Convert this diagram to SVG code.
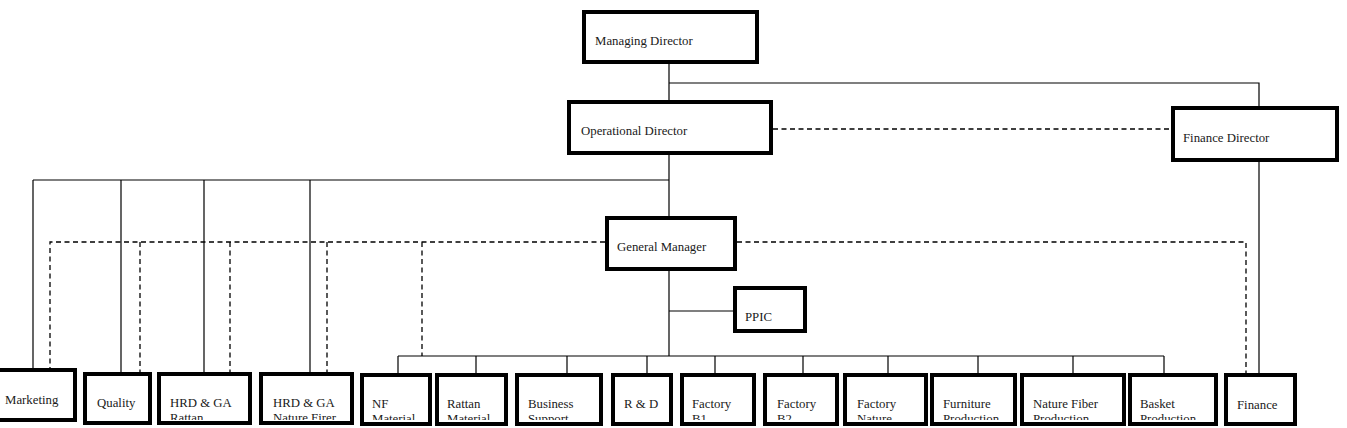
<svg xmlns="http://www.w3.org/2000/svg" width="1347" height="428" viewBox="0 0 1347 428">
<style>
.box{fill:none;stroke:#000;stroke-width:4}
.t{font-family:"Liberation Serif","Times New Roman",serif;font-size:12.8px;fill:#1a1a1a}
.ln{fill:none;stroke:#000;stroke-width:1.2}
.ds{fill:none;stroke:#000;stroke-width:1.3;stroke-dasharray:5 3.5}
</style>
<defs>
<clipPath id="cb"><rect x="-10" y="0" width="1360" height="420"/></clipPath>
</defs>
<rect x="0" y="0" width="1347" height="428" fill="#fff"/>
<g id="connectors">
<path class="ln" d="M669,64V100M669,83H1259V106M669,155V216M33,180H669M33,180V368M121,180V372M204,180V372M310,180V372M669,271V356M669,311H733M398,356H1164M1259,162V373"/>
<path class="ln" d="M398,356V373M476,356V373M567,356V373M647,356V373M715,356V373M803,356V373M888,356V373M978,356V373M1073,356V373M1164,356V373"/>
<path class="ds" d="M773,129H1171M605,242H50V368M140,242V372M230,242V372M327,242V372M422,242V356M737,242H1246V373"/>
</g>
<g id="md"><rect class="box" x="584" y="12" width="173" height="50"/><text class="t" x="595" y="45">Managing Director</text></g>
<g id="od"><rect class="box" x="569" y="102" width="202" height="51"/><text class="t" x="581" y="135">Operational Director</text></g>
<g id="fd"><rect class="box" x="1173" y="108" width="164" height="52"/><text class="t" x="1183" y="142">Finance Director</text></g>
<g id="gm"><rect class="box" x="607" y="218" width="128" height="51"/><text class="t" x="617" y="251">General Manager</text></g>
<g id="ppic"><rect class="box" x="735" y="288" width="70" height="43"/><text class="t" x="745" y="321">PPIC</text></g>
<g clip-path="url(#cb)">
<g id="marketing"><text class="t" x="5" y="404">Marketing</text></g>
<g id="quality"><text class="t" x="97" y="407">Quality</text></g>
<g id="hrd-rattan"><text class="t" x="170" y="407">HRD &amp; GA</text><text class="t" x="170" y="422">Rattan</text></g>
<g id="hrd-nature"><text class="t" x="273" y="407">HRD &amp; GA</text><text class="t" x="273" y="422">Nature Firer</text></g>
<g id="nf-material"><text class="t" x="372" y="408">NF</text><text class="t" x="372" y="423">Material</text></g>
<g id="rattan-material"><text class="t" x="447" y="408">Rattan</text><text class="t" x="447" y="423">Material</text></g>
<g id="business-support"><text class="t" x="528" y="408">Business</text><text class="t" x="528" y="423">Support</text></g>
<g id="rnd"><text class="t" x="624" y="408">R &amp; D</text></g>
<g id="factory-b1"><text class="t" x="692" y="408">Factory</text><text class="t" x="692" y="423">B1</text></g>
<g id="factory-b2"><text class="t" x="777" y="408">Factory</text><text class="t" x="777" y="423">B2</text></g>
<g id="factory-nature"><text class="t" x="857" y="408">Factory</text><text class="t" x="857" y="423">Nature</text></g>
<g id="furniture"><text class="t" x="943" y="408">Furniture</text><text class="t" x="943" y="423">Production</text></g>
<g id="nature-fiber"><text class="t" x="1033" y="408">Nature Fiber</text><text class="t" x="1033" y="423">Production</text></g>
<g id="basket"><text class="t" x="1140" y="408">Basket</text><text class="t" x="1140" y="423">Production</text></g>
<g id="finance"><text class="t" x="1237" y="409">Finance</text></g>
</g>
<g id="bottom-boxes">
<rect class="box" x="-2" y="370" width="77" height="50"/>
<rect class="box" x="85" y="374" width="65" height="49"/>
<rect class="box" x="159" y="374" width="91" height="49"/>
<rect class="box" x="261" y="374" width="91" height="49"/>
<rect class="box" x="362" y="375" width="68" height="49"/>
<rect class="box" x="437" y="375" width="69" height="49"/>
<rect class="box" x="517" y="375" width="84" height="49"/>
<rect class="box" x="613" y="375" width="58" height="49"/>
<rect class="box" x="682" y="375" width="72" height="49"/>
<rect class="box" x="765" y="375" width="72" height="49"/>
<rect class="box" x="845" y="375" width="81" height="49"/>
<rect class="box" x="932" y="375" width="83" height="49"/>
<rect class="box" x="1022" y="375" width="102" height="49"/>
<rect class="box" x="1130" y="375" width="86" height="49"/>
<rect class="box" x="1226" y="375" width="69" height="49"/>
</g>
</svg>
